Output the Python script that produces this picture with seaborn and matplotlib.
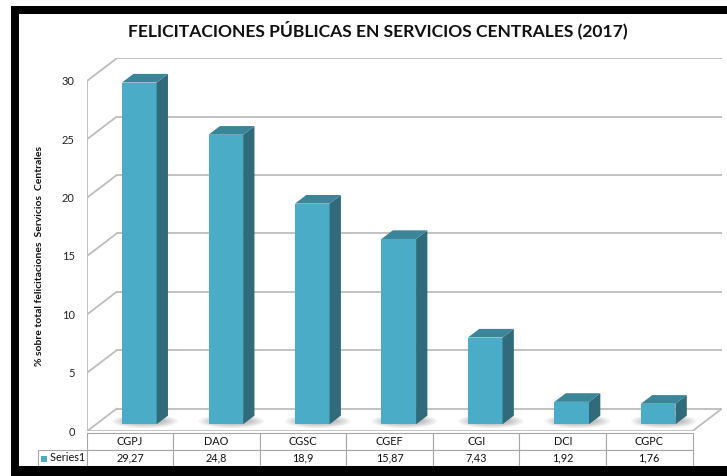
import matplotlib
matplotlib.use("Agg")
import matplotlib.pyplot as plt
from matplotlib.patches import Polygon, Rectangle, Ellipse
import seaborn as sns
import pandas as pd

categories = ["CGPJ", "DAO", "CGSC", "CGEF", "CGI", "DCI", "CGPC"]
values = [29.27, 24.8, 18.9, 15.87, 7.43, 1.92, 1.76]
series_name = "Series1"
yticks = [0, 5, 10, 15, 20, 25, 30]
title = "FELICITACIONES PÚBLICAS EN SERVICIOS CENTRALES (2017)"
ylabel = "% sobre total felicitaciones  Servicios  Centrales"

FRONT = "#4aacc6"
SIDE = "#2f6b7b"
TOP = "#3b8599"
GRID = "#bdbdbd"

W, H = 727, 476
sns.set_theme(style="white")
plt.rcParams["font.family"] = ["Lato", "DejaVu Sans"]

fig = plt.figure(figsize=(W / 100, H / 100), dpi=100)

def px(x0, y0, x1, y1):
    return [x0 / W, 1 - y1 / H, (x1 - x0) / W, (y1 - y0) / H]

AX_L, AX_R, AX_T, AX_B = 87.3, 722.0, 58.3, 431.0
ax = fig.add_axes(px(AX_L, AX_T, AX_R, AX_B))
DX = 0.34
DY = 1.92
YMAX = max(yticks)
n = len(categories)

df = pd.DataFrame({"cat": categories, "val": values})
sns.barplot(data=df, x="cat", y="val", ax=ax, width=0.40, color=FRONT,
            saturation=1, linewidth=0, zorder=5)

ax.set_xlim(-0.5, n - 0.5 + DX)
ax.set_ylim(0, YMAX + DY)

x_left, x_right = -0.5, n - 0.5
for v in yticks:
    ax.plot([x_left, x_left + DX], [v, v + DY], color=GRID, lw=1.3, zorder=1, solid_capstyle="round")
    ax.plot([x_left + DX, x_right + DX], [v + DY, v + DY], color=GRID, lw=1.3, zorder=1)
ax.plot([x_left, x_left], [0, YMAX], color=GRID, lw=1.3, zorder=1)
ax.plot([x_right, x_right + DX], [0, DY], color=GRID, lw=1.3, zorder=1)
ax.plot([x_left, x_right], [0, 0], color=GRID, lw=1.3, zorder=1)

D0, D1 = 0.30, 0.385
for p in list(ax.patches):
    x0 = p.get_x() + D0 * DX
    h = p.get_height()
    y0 = D0 * DY
    p.set_x(x0)
    p.set_y(y0)
    w = p.get_width()
    x1, y1 = x0 + w, y0 + h
    ddx, ddy = D1 * DX, D1 * DY
    cx = (x0 + x1 + ddx) / 2
    for k in range(6):
        ax.add_patch(Ellipse((cx, y0 + 0.35 * ddy), width=w * (1.9 - 0.15 * k),
                             height=ddy * (1.6 - 0.18 * k), facecolor="black",
                             alpha=0.045, lw=0, zorder=2))
    ax.add_patch(Polygon([(x1, y0), (x1 + ddx, y0 + ddy), (x1 + ddx, y1 + ddy), (x1, y1)],
                         closed=True, facecolor=SIDE, edgecolor="none", zorder=5))
    ax.add_patch(Polygon([(x0, y1), (x1, y1), (x1 + ddx, y1 + ddy), (x0 + ddx, y1 + ddy)],
                         closed=True, facecolor=TOP, edgecolor="none", zorder=5))

ax.set_yticks(yticks)
ax.set_yticklabels([str(v) for v in yticks], fontsize=8, color="#222222")
ax.tick_params(axis="y", length=0, pad=9)
ax.set_xticks([])
ax.set_xlabel("")
ax.set_ylabel("")
for s in ax.spines.values():
    s.set_visible(False)
ax.patch.set_alpha(0)

fig.text(40 / W, 1 - 256 / H, ylabel, rotation=90, ha="center", va="center",
         fontsize=7.5, fontweight="bold", color="#111111")

fig.text(378 / W, 1 - 30 / H, title, ha="center", va="center", fontsize=12.6,
         fontweight="bold", color="#111111")

tax = fig.add_axes(px(38, 433, 692.6, 466))
tax.axis("off")
cell_text = [[series_name] + [f"{v:g}".replace(".", ",") for v in values]]
col_labels = [""] + categories
colw = [48.7] + [86.47] * n
tbl = tax.table(cellText=cell_text, colLabels=col_labels, colWidths=colw,
                bbox=[0, 0, 1, 1], cellLoc="center")
tbl.auto_set_font_size(False)
for (r, c), cell in tbl.get_celld().items():
    cell.set_edgecolor("#a6a6a6")
    cell.set_linewidth(0.8)
    cell.get_text().set_fontsize(7.8)
    cell.get_text().set_color("#111111")
    if r == 0 and c == 0:
        cell.visible_edges = ""
    if r == 1 and c == 0:
        cell.get_text().set_text("    " + series_name)
fig.patches.append(Rectangle((41 / W, 1 - 462 / H), 6 / W, 6 / H, transform=fig.transFigure,
                             facecolor=FRONT, edgecolor="none", figure=fig))

for (x0, y0, x1, y1) in [(11, 6, 19, H), (11, 6, W, 14), (11, 466, W, H)]:
    fig.patches.append(Rectangle((x0 / W, 1 - y1 / H), (x1 - x0) / W, (y1 - y0) / H,
                                 transform=fig.transFigure, facecolor="black",
                                 edgecolor="none", figure=fig, zorder=10))

fig.savefig("out.png", dpi=100)
